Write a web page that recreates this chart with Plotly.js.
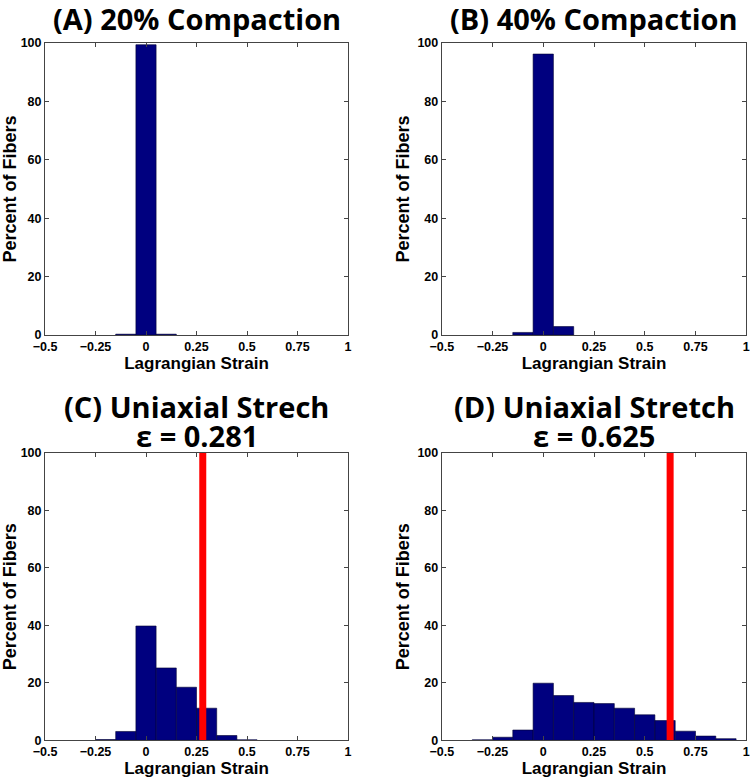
<!DOCTYPE html>
<html>
<head>
<meta charset="utf-8">
<script src="https://cdn.plot.ly/plotly-3.0.1.min.js"></script>
<style>html,body{margin:0;padding:0;background:#fff;}</style>
</head>
<body>
<div id="chart" style="width:750px;height:781px;"></div>
<script>
// Bin centers (Lagrangian strain), bin width 0.1
const binsA = [-0.1, 0, 0.1];
const valsA = [0.3, 99.4, 0.3];

const binsB = [-0.1, 0, 0.1];
const valsB = [0.9, 96.2, 2.9];

const binsC = [-0.2, -0.1, 0, 0.1, 0.2, 0.3, 0.4, 0.5];
const valsC = [0.3, 3.1, 39.8, 25.2, 18.5, 11.2, 1.7, 0.2];

const binsD = [-0.3, -0.2, -0.1, 0, 0.1, 0.2, 0.3, 0.4, 0.5, 0.6, 0.7, 0.8, 0.9];
const valsD = [0.2, 1.1, 3.6, 19.9, 15.6, 13.2, 12.8, 11.2, 8.9, 6.9, 3.2, 1.5, 0.6];

const strainC = 0.281;
const strainD = 0.625;

const titleA = "(A) 20% Compaction";
const titleB = "(B) 40% Compaction";
const titleC1 = "(C) Uniaxial Strech";
const titleC2 = "\u03b5 = 0.281";
const titleD1 = "(D) Uniaxial Stretch";
const titleD2 = "\u03b5 = 0.625";

const xTickVals = [-0.5, -0.25, 0, 0.25, 0.5, 0.75, 1];
const xTickText = ["\u22120.5", "\u22120.25", "0", "0.25", "0.5", "0.75", "1"];
const yTickVals = [0, 20, 40, 60, 80, 100];

const barColor = "#00007f";
const binWidth = 0.1;

function barTrace(x, y, xa, ya) {
  return {
    type: "bar", x: x, y: y, width: binWidth,
    xaxis: xa, yaxis: ya,
    marker: {color: barColor, line: {color: "#000033", width: 0.6}},
    hoverinfo: "x+y", showlegend: false
  };
}
function redLine(v, xa, ya) {
  return {
    type: "scatter", mode: "lines", x: [v, v], y: [0, 100],
    xaxis: xa, yaxis: ya,
    line: {color: "#ff0000", width: 7}, showlegend: false, hoverinfo: "x"
  };
}

const data = [
  barTrace(binsA, valsA, "x", "y"),
  barTrace(binsB, valsB, "x2", "y2"),
  barTrace(binsC, valsC, "x3", "y3"),
  barTrace(binsD, valsD, "x4", "y4"),
  redLine(strainC, "x3", "y3"),
  redLine(strainD, "x4", "y4")
];

const tickFont = {family: "Liberation Sans, Arial, sans-serif", size: 12.5, color: "#000", weight: "bold"};
function xAxis(domain, anchor) {
  return {
    domain: domain, anchor: anchor, range: [-0.5, 1],
    tickvals: xTickVals, ticktext: xTickText, ticks: "inside", ticklen: 4,
    tickcolor: "#444", showline: true, linecolor: "#444", linewidth: 1, mirror: "allticks",
    showgrid: false, zeroline: false, tickfont: tickFont,
    title: {text: "<b>Lagrangian Strain</b>", standoff: 0,
            font: {family: "Liberation Sans, Arial, sans-serif", size: 17, color: "#000"}},
    fixedrange: true
  };
}
function yAxis(domain, anchor) {
  return {
    domain: domain, anchor: anchor, range: [0, 100],
    tickvals: yTickVals, ticks: "inside", ticklen: 4,
    tickcolor: "#444", showline: true, linecolor: "#444", linewidth: 1, mirror: "allticks",
    showgrid: false, zeroline: false, tickfont: tickFont,
    title: {text: "<b>Percent of Fibers</b>", standoff: 3,
            font: {family: "Liberation Sans, Arial, sans-serif", size: 18, color: "#000"}},
    fixedrange: true
  };
}

const xdL = [0.060, 0.464], xdR = [0.589, 0.995];
const ydT = [0.571, 0.945], ydB = [0.052, 0.420];

const titleFont = {family: "Open Sans, Noto Sans, sans-serif", size: 29, color: "#000", weight: "bold"};
function titleAnn(text, x, y) {
  return {text: "<b>" + text + "</b>", x: x, y: y, xref: "paper", yref: "paper",
          xanchor: "center", yanchor: "middle", showarrow: false, font: titleFont};
}
const cL = (xdL[0] + xdL[1]) / 2, cR = (xdR[0] + xdR[1]) / 2;

const layout = {
  width: 750, height: 781,
  margin: {l: 0, r: 0, t: 0, b: 0},
  paper_bgcolor: "#fff", plot_bgcolor: "#fff",
  bargap: 0, showlegend: false,
  xaxis: xAxis(xdL, "y"), yaxis: yAxis(ydT, "x"),
  xaxis2: xAxis(xdR, "y2"), yaxis2: yAxis(ydT, "x2"),
  xaxis3: xAxis(xdL, "y3"), yaxis3: yAxis(ydB, "x3"),
  xaxis4: xAxis(xdR, "y4"), yaxis4: yAxis(ydB, "x4"),
  annotations: [
    titleAnn(titleA, cL, 0.976),
    titleAnn(titleB, cR, 0.976),
    titleAnn(titleC1, cL, 0.479),
    titleAnn(titleC2, cL, 0.443),
    titleAnn(titleD1, cR, 0.479),
    titleAnn(titleD2, cR, 0.443)
  ]
};

Plotly.newPlot("chart", data, layout, {displayModeBar: false, staticPlot: true});
</script>
</body>
</html>
